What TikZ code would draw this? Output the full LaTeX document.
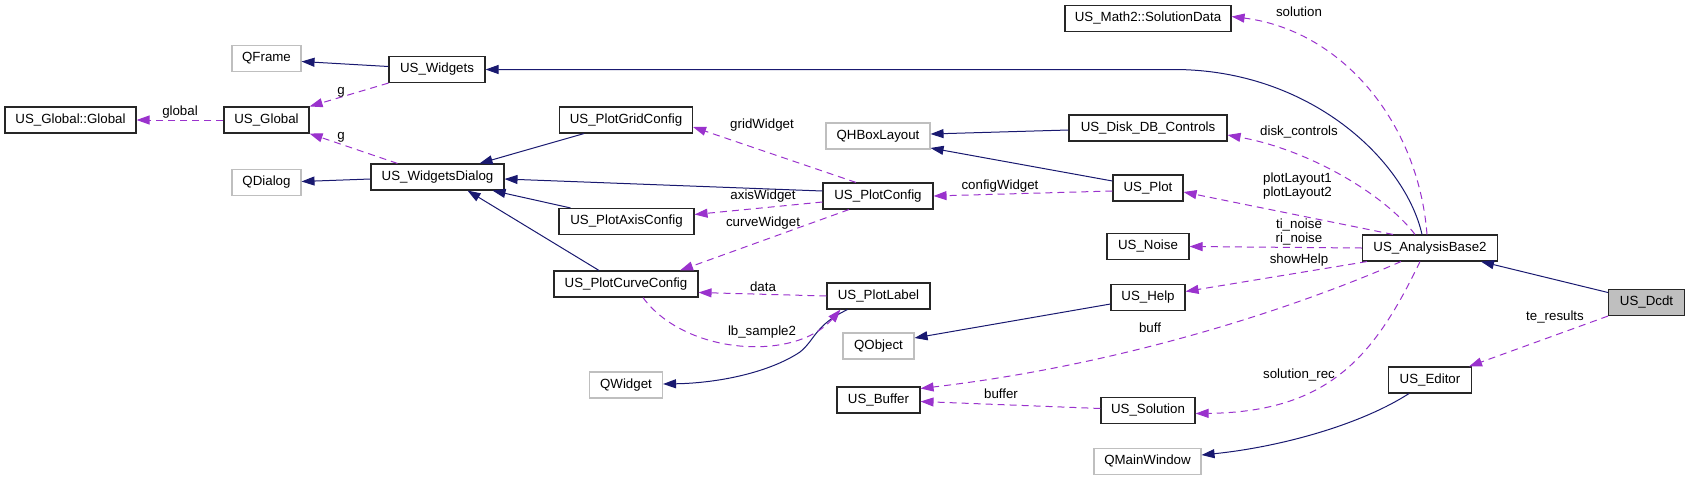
\documentclass[tikz,border=0pt]{standalone}
\usepackage{fontspec}
\setmainfont{Liberation Sans}
\usepackage{tikz}
\usetikzlibrary{arrows.meta}
\definecolor{inhblue}{HTML}{191970}
\definecolor{usepurple}{HTML}{9A32CD}
\definecolor{extgray}{HTML}{BFBFBF}

\begin{document}
\begin{tikzpicture}
    [x=1pt, y=-1pt,
     every node/.style={font=\fontsize{13.3}{14.5}\selectfont},
     cls/.style={draw=black!85, line width=1.1pt, fill=white, minimum height=26pt,
                 inner sep=0pt, text height=9.6pt, text depth=2.8pt},
     ext/.style={cls, draw=extgray},
     cur/.style={cls, fill=extgray},
     lbl/.style={inner sep=0pt, align=center},
     >={Triangle[length=13pt, width=9pt]},
     inh/.style={->, draw=inhblue, fill=none, line width=1pt},
     usage/.style={->, draw=usepurple, line width=1pt, dash pattern=on 7pt off 5pt}]
    \useasboundingbox (0,0) rectangle (1691,480);

    % classes
    \node[cls, minimum width=131pt] (gg) at (70.5,120) {US\_Global::Global};
    \node[cls, minimum width=85pt] (glob) at (266.5,120) {US\_Global};
    \node[ext, minimum width=69pt] (qframe) at (266.5,58.5) {QFrame};
    \node[ext, minimum width=69pt] (qdialog) at (266.5,182.5) {QDialog};
    \node[cls, minimum width=96pt] (wdg) at (437,69.5) {US\_Widgets};
    \node[cls, minimum width=133pt] (wd) at (437.5,177) {US\_WidgetsDialog};
    \node[cls, minimum width=133pt] (pgc) at (626,120) {US\_PlotGridConfig};
    \node[cls, minimum width=135pt] (pac) at (626.5,221.5) {US\_PlotAxisConfig};
    \node[cls, minimum width=144pt] (pcc) at (626,284) {US\_PlotCurveConfig};
    \node[ext, minimum width=73pt] (qwidget) at (626,385) {QWidget};
    \node[ext, minimum width=104pt] (qhb) at (878,136) {QHBoxLayout};
    \node[cls, minimum width=110pt] (pc) at (878,196) {US\_PlotConfig};
    \node[cls, minimum width=103pt] (pl) at (878.5,296) {US\_PlotLabel};
    \node[ext, minimum width=71pt] (qobject) at (878.5,346) {QObject};
    \node[cls, minimum width=83pt] (buf) at (878.5,400) {US\_Buffer};
    \node[cls, minimum width=166pt] (sd) at (1148,18.5) {US\_Math2::SolutionData};
    \node[cls, minimum width=158pt] (ddb) at (1148,128) {US\_Disk\_DB\_Controls};
    \node[cls, minimum width=70pt] (plot) at (1148,188) {US\_Plot};
    \node[cls, minimum width=82pt] (noise) at (1148,246.5) {US\_Noise};
    \node[cls, minimum width=74pt] (help) at (1148,297.5) {US\_Help};
    \node[cls, minimum width=94pt] (sol) at (1148,410.5) {US\_Solution};
    \node[ext, minimum width=107pt] (qmw) at (1147.5,461.5) {QMainWindow};
    \node[cls, minimum width=135pt] (ab2) at (1430,248) {US\_AnalysisBase2};
    \node[cls, minimum width=83pt] (editor) at (1430,380) {US\_Editor};
    \node[cur, minimum width=76pt] (dcdt) at (1646.5,302.5) {US\_Dcdt};

    % inheritance
    \draw[inh] ([yshift=3pt]wdg.west) -- ([yshift=-3pt]qframe.east);
    \draw[inh] ([xshift=-8pt]ab2.north) .. controls (1405,160) and (1310,70) .. (1175,69.5) -- (wdg.east);
    \draw[inh] ([xshift=-42pt]pgc.south) -- ([xshift=42pt]wd.north);
    \draw[inh] ([yshift=5pt]pc.west) -- ([yshift=-2pt]wd.east);
    \draw[inh] ([xshift=-56pt]pac.north) -- ([xshift=55pt]wd.south);
    \draw[inh] ([xshift=-27pt]pcc.north) -- ([xshift=30pt]wd.south);
    \draw[inh] ([yshift=-2pt]wd.west) -- ([yshift=1pt]qdialog.east);
    \draw[inh] ([yshift=-2pt]ddb.west) -- ([yshift=2pt]qhb.east);
    \draw[inh] ([yshift=7pt]plot.west) -- ([yshift=-12pt]qhb.east);
    \draw[inh] ([xshift=-31pt]pl.south) .. controls (815,325) and (815,340) .. (800,352)
        .. controls (770,372) and (720,383) .. ([yshift=1pt]qwidget.east);
    \draw[inh] ([yshift=-6.5pt]help.west) -- ([yshift=8pt]qobject.east);
    \draw[inh] ([xshift=-21pt]editor.south) .. controls (1360,425) and (1280,447) .. ([yshift=6.5pt]qmw.east);
    \draw[inh] ([yshift=10pt]dcdt.west) -- ([xshift=51pt]ab2.south);

    % usage
    \draw[usage] (wdg.south west) -- (glob.north east);
    \draw[usage] ([xshift=-40pt]wd.north) -- (glob.south east);
    \draw[usage] (glob.west) -- (gg.east);
    \draw[usage] ([xshift=-22pt]pc.north) -- ([yshift=-7pt]pgc.east);
    \draw[usage] ([yshift=-6pt]pc.west) -- ([yshift=7pt]pac.east);
    \draw[usage] ([xshift=-29pt]pc.south) -- ([xshift=54pt]pcc.north);
    \draw[usage] ([yshift=-3pt]plot.west) -- (pc.east);
    \draw[usage] (pl.west) -- ([yshift=-8.5pt]pcc.east);
    \draw[usage] ([xshift=17pt]pcc.south) .. controls (685,355) and (795,362) .. ([xshift=-38pt]pl.south);
    \draw[usage] ([xshift=-3pt]ab2.north) .. controls (1418,120) and (1340,30) .. ([yshift=2pt]sd.east);
    \draw[usage] ([xshift=-15pt]ab2.north) .. controls (1385,195) and (1310,150) .. ([yshift=-7pt]ddb.east);
    \draw[usage] ([xshift=-37pt]ab2.north) -- ([yshift=-4pt]plot.east);
    \draw[usage] (ab2.west) -- (noise.east);
    \draw[usage] ([xshift=-63pt]ab2.south) -- ([yshift=6pt]help.east);
    \draw[usage] ([xshift=-29pt]ab2.south) .. controls (1290,310) and (1120,365) .. ([yshift=11.5pt]buf.east);
    \draw[usage] ([xshift=-10pt]ab2.south) .. controls (1375,355) and (1330,412) .. ([yshift=-3pt]sol.east);
    \draw[usage] ([yshift=2pt]sol.west) -- ([yshift=-1.5pt]buf.east);
    \draw[usage] (dcdt.south west) -- ([xshift=39pt]editor.north);

    % labels
    \node[lbl] (l-g1) at (341,92) {g};
    \node[lbl] (l-g2) at (341,137) {g};
    \node[lbl] (l-global) at (180,112) {global};
    \node[lbl] (l-grid) at (762,125) {gridWidget};
    \node[lbl] (l-axis) at (763,196) {axisWidget};
    \node[lbl] (l-curve) at (763,223) {curveWidget};
    \node[lbl] (l-config) at (1000,186) {configWidget};
    \node[lbl] (l-data) at (763,287) {data};
    \node[lbl] (l-lb) at (762,332) {lb\_sample2};
    \node[lbl] (l-solution) at (1299,12) {solution};
    \node[lbl] (l-disk) at (1299,132) {disk\_controls};
    \node[lbl] (l-layout) at (1297.5,186) {plotLayout1\\plotLayout2};
    \node[lbl] (l-noise) at (1299,232) {ti\_noise\\ri\_noise};
    \node[lbl] (l-help) at (1299,260) {showHelp};
    \node[lbl] (l-buff) at (1150,328) {buff};
    \node[lbl] (l-solrec) at (1299,375) {solution\_rec};
    \node[lbl] (l-buffer) at (1001,394) {buffer};
    \node[lbl] (l-te) at (1555,317) {te\_results};
\end{tikzpicture}
\end{document}
